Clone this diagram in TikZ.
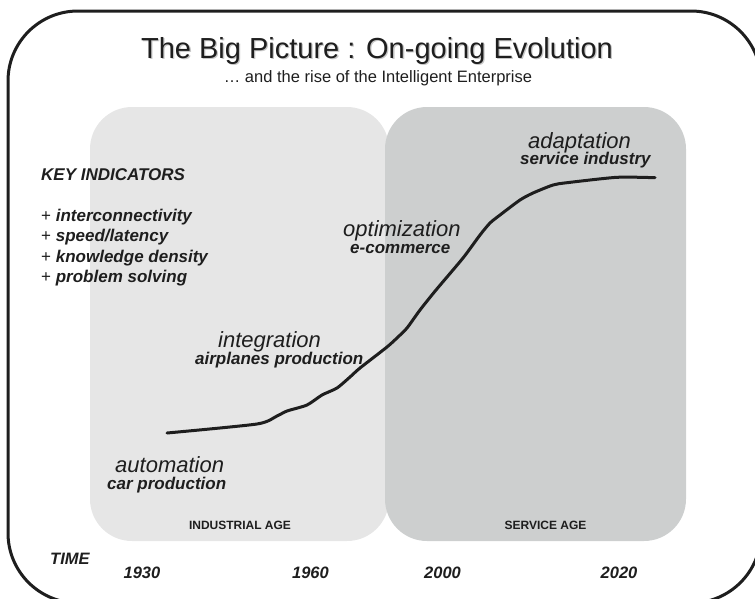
\documentclass[tikz,border=0pt]{standalone}
\usepackage{fontspec}
\setmainfont{Liberation Sans}
\definecolor{lightbox}{RGB}{230,230,230}
\definecolor{darkbox}{RGB}{205,207,207}
\definecolor{ink}{RGB}{30,30,30}
\newcommand{\titletext}{The Big Picture : On-going Evolution}
\tikzset{
  frameline/.style={line width=3pt, rounded corners=70pt, draw=ink},
  agebox/.style={rounded corners=42pt},
  txt/.style={inner sep=0pt, anchor=base west, text=ink},
  ctxt/.style={inner sep=0pt, anchor=base, text=ink},
  phase/.style={txt, font=\fontsize{22}{24}\selectfont\itshape},
  example/.style={txt, font=\fontsize{17}{19}\selectfont\bfseries\itshape},
  indicator/.style={txt, font=\fontsize{17}{19}\selectfont},
  agelabel/.style={ctxt, font=\fontsize{12}{14}\selectfont\bfseries},
  yearlabel/.style={ctxt, font=\fontsize{16.5}{18}\selectfont\bfseries\itshape},
  curveline/.style={line width=3pt, line cap=round, line join=round, draw=ink}
}
\begin{document}
\begin{tikzpicture}[x=1pt,y=-1pt]
\useasboundingbox (0,0) rectangle (755,598);
% outer frame (clipped by the page)
\begin{scope}
  \clip (0,0) rectangle (755,598);
  \draw[frameline] (8,11) rectangle (761,603);
\end{scope}
% age boxes
\fill[lightbox, agebox] (90,107) rectangle (389,541);
\fill[darkbox, agebox] (385,107) rectangle (686,541);
% title with soft shadow
\node[ctxt, font=\fontsize{29}{31}\selectfont] (title) at (377,58)
  {\makebox[0pt][l]{\hspace{1.3pt}\raisebox{-1.3pt}{\textcolor{black!22}{\titletext}}}\titletext};
\node[ctxt, font=\fontsize{16.5}{18}\selectfont] (subtitle) at (378,82) {\ldots\ and the rise of the Intelligent Enterprise};
% key indicators
\node[example] (keyind) at (41,180) {KEY INDICATORS};
\node[indicator] (ind1) at (41,221) {+ \textbf{\textit{interconnectivity}}};
\node[indicator] (ind2) at (41,241.5) {+ \textbf{\textit{speed/latency}}};
\node[indicator] (ind3) at (41,262) {+ \textbf{\textit{knowledge density}}};
\node[indicator] (ind4) at (41,282.5) {+ \textbf{\textit{problem solving}}};
% evolution curve
\draw[curveline] plot[smooth, tension=0.4] coordinates {
  (167,433) (257,424) (277,416) (287,411) (307,405) (322,395) (337,388)
  (350,377) (360,368) (387,347) (398,337) (407,328) (420,310) (436,290)
  (463,258) (480,235) (490,223) (500,215) (520,200) (533,193) (553,185)
  (567,182.7) (617,177.3) (655,177.7)};
% phase labels
\node[phase] (automation) at (115,472.5) {automation};
\node[example] (carprod) at (107,489) {car production};
\node[phase] (integration) at (218,347) {integration};
\node[example] (airprod) at (195,364) {airplanes production};
\node[phase] (optimization) at (343,236) {optimization};
\node[example] (ecommerce) at (350,253) {e-commerce};
\node[phase] (adaptation) at (528,148) {adaptation};
\node[example] (serviceind) at (520,164) {service industry};
% age labels
\node[agelabel] (industrial) at (240,529) {INDUSTRIAL AGE};
\node[agelabel] (service) at (545.5,529) {SERVICE AGE};
% time axis labels
\node[yearlabel, anchor=base west] (time) at (50,564) {TIME};
\node[yearlabel] (y1930) at (142,578) {1930};
\node[yearlabel] (y1960) at (310.5,578) {1960};
\node[yearlabel] (y2000) at (442.5,578) {2000};
\node[yearlabel] (y2020) at (619,578) {2020};
\end{tikzpicture}
\end{document}
